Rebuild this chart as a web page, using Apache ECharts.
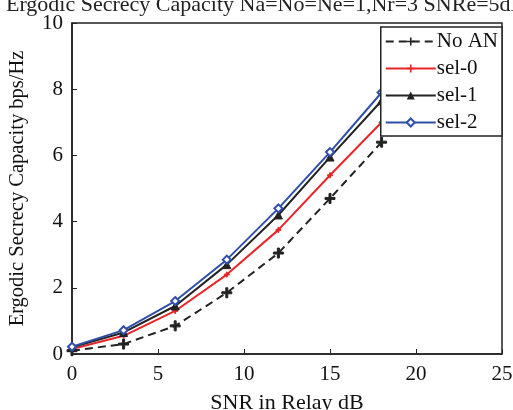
<!doctype html>
<html>
<head>
<meta charset="utf-8">
<title>Ergodic Secrecy Capacity</title>
<script src="https://cdn.jsdelivr.net/npm/echarts@6/dist/echarts.min.js"></script>
<style>
  html, body { margin: 0; padding: 0; background: #fff; }
  #chart { width: 513px; height: 410px; }
</style>
</head>
<body>
<div id="chart"></div>
<script>
var snr = [0, 3, 6, 9, 12, 15, 18];
var noAN = [0.1, 0.3, 0.85, 1.85, 3.05, 4.7, 6.4];
var sel0 = [0.15, 0.55, 1.3, 2.4, 3.75, 5.4, 7.0];
var sel1 = [0.2, 0.65, 1.45, 2.7, 4.2, 5.95, 7.65];
var sel2 = [0.22, 0.72, 1.6, 2.85, 4.4, 6.1, 7.9];

var font = 'Liberation Serif, Times New Roman, serif';
var plus = 'path://M4,0H6V4H10V6H6V10H4V6H0V4H4Z';

function pts(ys) {
  return snr.map(function (x, i) { return [x, ys[i]]; });
}

function line(name, ys, color, symbol, size, dashed) {
  return {
    name: name,
    type: 'line',
    data: pts(ys),
    symbol: symbol,
    symbolSize: size,
    showSymbol: true,
    lineStyle: { color: color, width: 2, type: dashed ? [8, 5] : 'solid' },
    itemStyle: { color: color, borderColor: color },
    animation: false
  };
}

var chart = echarts.init(document.getElementById('chart'));
chart.setOption({
  backgroundColor: '#fff',
  title: {
    text: 'Ergodic Secrecy Capacity Na=No=Ne=1,Nr=3 SNRe=5dB',
    left: 1,
    top: -11,
    textStyle: { fontFamily: font, fontSize: 22, fontWeight: 'normal', color: '#222' }
  },
  grid: { left: 72, right: 11, top: 23, bottom: 56, outerBoundsMode: 'none' },
  legend: {
    orient: 'vertical',
    right: 11,
    top: 27,
    z: 10,
    itemWidth: 50,
    itemHeight: 10,
    itemGap: 6,
    padding: [4, 4, 3, 4],
    borderColor: '#222',
    borderWidth: 1.5,
    backgroundColor: '#fff',
    textStyle: { fontFamily: font, fontSize: 21, color: '#111', padding: [0, 0, 0, -4] },
    data: ['No AN', 'sel-0', 'sel-1', 'sel-2']
  },
  xAxis: {
    type: 'value',
    min: 0, max: 25, interval: 5,
    name: 'SNR in Relay dB',
    nameLocation: 'middle',
    nameGap: 38,
    nameTextStyle: { fontFamily: font, fontSize: 22, color: '#111' },
    axisLine: { lineStyle: { color: '#222', width: 1.5 } },
    axisTick: { inside: true, length: 5, lineStyle: { color: '#222' } },
    axisLabel: { fontFamily: font, fontSize: 21, color: '#111', margin: 10 },
    splitLine: { show: false }
  },
  yAxis: {
    type: 'value',
    min: 0, max: 10, interval: 2,
    name: 'Ergodic Secrecy Capacity bps/Hz',
    nameLocation: 'middle',
    nameGap: 44,
    nameTextStyle: { fontFamily: font, fontSize: 20.5, color: '#111' },
    axisLine: { lineStyle: { color: '#222', width: 1.5 } },
    axisTick: { inside: true, length: 5, lineStyle: { color: '#222' } },
    axisLabel: { fontFamily: font, fontSize: 21, color: '#111', margin: 9 },
    splitLine: { show: false }
  },
  series: [
    line('No AN', noAN, '#222', plus, 10, true),
    line('sel-0', sel0, '#e8262a', plus, 5, false),
    line('sel-1', sel1, '#222', 'triangle', 8, false),
    line('sel-2', sel2, '#2f4fa8', 'emptyDiamond', 8, false)
  ]
});

// frame on top and right like the original box
chart.setOption({
  graphic: [{
    type: 'rect',
    shape: { x: 72, y: 23, width: 430, height: 331 },
    style: { fill: null, stroke: '#222', lineWidth: 1.5 },
    silent: true,
    z: -1
  }]
});
</script>
</body>
</html>
